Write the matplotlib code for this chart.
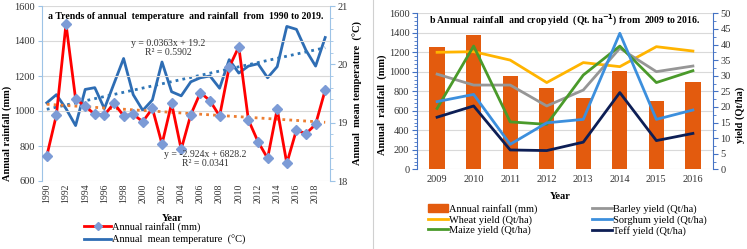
import numpy as np
import matplotlib
matplotlib.use("Agg")
import matplotlib.pyplot as plt
from matplotlib.lines import Line2D
from matplotlib.patches import Patch
from matplotlib.ticker import MultipleLocator

plt.rcParams['font.family'] = ['Liberation Serif', 'DejaVu Serif']

# panel a data
years = list(range(1990, 2020))
rainfall = [743, 977, 1497, 1069, 1027, 981, 977, 1044, 973, 981,
            939, 1015, 811, 1044, 781, 979, 1105, 1059, 971, 1250,
            1367, 949, 825, 730, 1011, 701, 891, 870, 924, 1120]
temperature = [19.34, 19.48, 19.24, 18.95, 19.57, 19.60, 19.24, 19.67, 20.10, 19.48,
               19.21, 19.39, 20.04, 19.53, 19.46, 19.70, 19.77, 19.80, 19.59, 20.08,
               19.85, 19.97, 20.01, 19.77, 19.96, 20.65, 20.60, 20.24, 19.97, 20.46]
year_ticks = list(range(1990, 2019, 2))

# panel b data
years_b = ['2009', '2010', '2011', '2012', '2013', '2014', '2015', '2016']
rain_b = [1251, 1377, 954, 831, 734, 1011, 700, 892]
wheat = [37.5, 37.7, 35.0, 27.8, 34.2, 32.9, 39.3, 37.9]
barley = [30.5, 27.0, 27.0, 20.3, 25.4, 38.8, 31.3, 33.1]
maize = [19.5, 39.5, 15.2, 14.4, 30.2, 39.5, 27.8, 31.6]
sorghum = [21.7, 24.0, 8.0, 14.9, 16.0, 43.6, 16.0, 19.0]
teff = [16.7, 20.3, 6.2, 6.0, 8.7, 24.6, 9.2, 11.5]

W, H = 747, 249
fig = plt.figure(figsize=(W / 100, H / 100), dpi=100)

def box(l, t, r, b):
    return [l / W, 1 - b / H, (r - l) / W, (b - t) / H]

spine_a = '#9DC3E6'
tick_col = '#333333'
fs = 7.5

# ---------- panel a ----------
ax = fig.add_axes(box(42, 6, 330, 181))
ax2 = ax.twinx()
ax.set_zorder(ax2.get_zorder() + 1)
ax.patch.set_visible(False)

x = np.array(years)
ax.plot(x, rainfall, color='#FF0000', lw=2, marker='D', ms=5,
        mfc='#7C9BD6', mec='#7C9BD6', zorder=3)
k, c = np.polyfit(x, rainfall, 1)
ax.plot(x, k * x + c, ls=(0, (1, 1.5)), color='#ED7D31', lw=2, zorder=2)
ax2.plot(x, temperature, color='#2E6DB4', lw=2)
k2, c2 = np.polyfit(x, temperature, 1)
ax2.plot(x, k2 * x + c2, ls=(0, (1, 1.5)), color='#2E75B6', lw=2)

ax.set_xlim(1989.5, 2019.5)
ax.set_ylim(600, 1600)
ax2.set_ylim(18, 21)
ax.yaxis.set_major_locator(MultipleLocator(200))
ax2.yaxis.set_major_locator(MultipleLocator(1))
ax2.yaxis.set_minor_locator(MultipleLocator(0.2))
ax.set_xticks(year_ticks)
ax.set_xticklabels([str(y) for y in year_ticks], rotation=90)
ax.grid(axis='y', color='#D9D9D9', lw=0.8)
ax.set_axisbelow(True)
for a in (ax, ax2):
    for s in a.spines.values():
        s.set_visible(False)
ax2.spines['right'].set_visible(True)
ax2.spines['right'].set_color(spine_a)
ax.spines['left'].set_visible(True)
ax.spines['left'].set_color(spine_a)
ax.tick_params(axis='y', colors=spine_a, labelcolor=tick_col, labelsize=fs, length=3, pad=2)
ax.tick_params(axis='x', length=0, labelcolor=tick_col, labelsize=7, pad=2)
ax2.tick_params(axis='y', which='both', colors=spine_a, labelcolor=tick_col, labelsize=fs, pad=2)
ax2.tick_params(axis='y', which='minor', length=2)

ax.text(0.5, 0.94, 'a Trends of annual  temperature  and rainfall  from  1990 to 2019.',
        transform=ax.transAxes, ha='center', va='center', fontsize=7, fontweight='bold')
fig.text(168 / W, 1 - 48 / H, 'y = 0.0363x + 19.2\nR² = 0.5902', ha='center', va='center',
         fontsize=7, linespacing=1.1, color='#333333')
fig.text(205 / W, 1 - 159 / H, 'y = -2.924x + 6828.2\nR² = 0.0341', ha='center', va='center',
         fontsize=7, linespacing=1.1, color='#333333')
fig.text(7 / W, 1 - 133 / H, 'Annual rainfall (mm)', rotation=90, ha='center', va='center',
         fontsize=fs, fontweight='bold')
fig.text(358 / W, 1 - 93 / H, 'Annual  mean temperature  (°C)', rotation=90, ha='center',
         va='center', fontsize=fs, fontweight='bold')
fig.text(172 / W, 1 - 218 / H, 'Year', ha='center', va='center', fontsize=fs, fontweight='bold')

h_a = [Line2D([], [], color='#FF0000', lw=2, marker='D', ms=4, mfc='#7C9BD6', mec='#7C9BD6'),
       Line2D([], [], color='#2E6DB4', lw=2)]
fig.legend(h_a, ['Annual rainfall (mm)', 'Annual  mean temperature  (°C)'],
           loc='upper left', bbox_to_anchor=(84 / W, 1 - 222 / H), frameon=False,
           fontsize=fs, handlelength=2.6, handletextpad=0.1, labelspacing=0.25,
           borderpad=0, borderaxespad=0)

# separator line between panels
fig.add_artist(Line2D([373 / W, 373 / W], [0, 1], color='#D0D0D0', lw=0.8))

# ---------- panel b ----------
bx = fig.add_axes(box(417, 13.3, 713, 169.3))
bx2 = bx.twinx()
xb = np.arange(len(years_b))
bx.bar(xb, rain_b, width=0.42, color='#E35B0E', zorder=2)
bx2.plot(xb, wheat, color='#FFB400', lw=2)
bx2.plot(xb, barley, color='#969696', lw=2)
bx2.plot(xb, maize, color='#4A9A2A', lw=2)
bx2.plot(xb, sorghum, color='#3C8FDD', lw=2)
bx2.plot(xb, teff, color='#0D1E55', lw=2)

bx.set_xlim(-0.55, len(years_b) - 0.45)
bx.set_ylim(0, 1600)
bx2.set_ylim(0, 50)
bx.yaxis.set_major_locator(MultipleLocator(200))
bx.yaxis.set_minor_locator(MultipleLocator(40))
bx2.yaxis.set_major_locator(MultipleLocator(5))
bx2.yaxis.set_minor_locator(MultipleLocator(2.5))
bx.set_xticks(xb)
bx.set_xticklabels(years_b)
bx.grid(axis='y', color='#D9D9D9', lw=0.8)
bx.set_axisbelow(True)
spine_b = '#4472C4'
for a in (bx, bx2):
    for s in a.spines.values():
        s.set_visible(False)
bx.spines['left'].set_visible(True)
bx.spines['left'].set_color(spine_b)
bx2.spines['right'].set_visible(True)
bx2.spines['right'].set_color(spine_b)
bx.tick_params(axis='y', which='both', colors=spine_b, labelcolor=tick_col, labelsize=fs, pad=2)
bx.tick_params(axis='y', which='minor', length=2)
bx.tick_params(axis='x', length=0, labelcolor=tick_col, labelsize=fs, pad=4)
bx2.tick_params(axis='y', which='both', colors=spine_b, labelcolor=tick_col, labelsize=fs, pad=2)
bx2.tick_params(axis='y', which='minor', length=2)

bx.text(0.5, 0.955, r'b Annual  rainfall  and crop yield  (Qt. ha$^{\mathbf{-1}}$) from  2009 to 2016.',
        transform=bx.transAxes, ha='center', va='center', fontsize=7, fontweight='bold')
fig.text(382 / W, 1 - 105 / H, 'Annual  rainfall  (mm)', rotation=90, ha='center', va='center',
         fontsize=fs, fontweight='bold')
fig.text(740 / W, 1 - 115 / H, 'yield (Qt/ha)', rotation=90, ha='center', va='center',
         fontsize=fs, fontweight='bold')
fig.text(560 / W, 1 - 196 / H, 'Year', ha='center', va='center', fontsize=fs, fontweight='bold')

h_b = [Patch(color='#E35B0E'),
       Line2D([], [], color='#FFB400', lw=2),
       Line2D([], [], color='#4A9A2A', lw=2),
       Line2D([], [], color='#969696', lw=2),
       Line2D([], [], color='#3C8FDD', lw=2),
       Line2D([], [], color='#0D1E55', lw=2)]
l_b = ['Annual rainfall (mm)', 'Wheat yield (Qt/ha)', 'Maize yield (Qt/ha)',
       'Barley yield (Qt/ha)', 'Sorghum yield (Qt/ha)', 'Teff yield (Qt/ha)']
fig.legend(h_b, l_b, ncol=2, loc='upper left', bbox_to_anchor=(428 / W, 1 - 204 / H),
           frameon=False, fontsize=fs, handlelength=1.9, handletextpad=0.15,
           labelspacing=0.1, columnspacing=5.2, borderpad=0, borderaxespad=0)

fig.savefig('out.png', dpi=100)
